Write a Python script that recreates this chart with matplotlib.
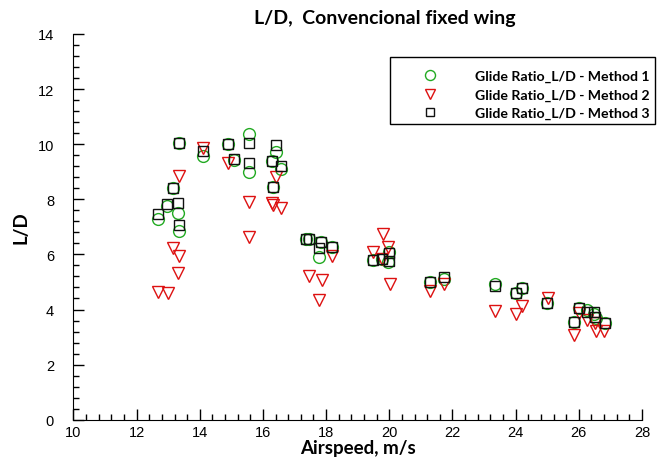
import matplotlib.pyplot as plt
from matplotlib.patches import Rectangle
from matplotlib.ticker import MultipleLocator

# Method 1 - circles
m1_speed = [12.69, 12.97, 13.14, 13.32, 13.35, 13.35, 14.11, 14.88, 15.09, 15.55,
            15.55, 16.30, 16.40, 16.33, 16.56, 17.36, 17.47, 17.78, 17.84, 18.18,
            19.47, 19.76, 20.00, 19.97, 21.29, 21.73, 23.35, 24.01, 24.19, 24.98,
            25.86, 26.01, 26.25, 26.49, 26.55, 26.83]
m1_ld = [7.29, 7.75, 8.41, 7.50, 6.86, 10.03, 9.56, 10.00, 9.44, 10.38,
         8.99, 9.39, 9.71, 8.44, 9.10, 6.56, 6.56, 5.92, 6.44, 6.26,
         5.80, 5.85, 6.10, 5.71, 4.99, 5.11, 4.93, 4.59, 4.77, 4.24,
         3.56, 4.05, 3.99, 3.85, 3.70, 3.50]

# Method 2 - triangles
m2_speed = [12.69, 12.98, 13.14, 13.35, 13.32, 13.35, 14.11, 14.88, 15.55, 15.55,
            16.40, 16.30, 16.33, 16.57, 17.47, 17.86, 17.78, 18.18, 19.47, 19.79,
            19.76, 19.97, 20.02, 21.29, 21.73, 23.35, 24.01, 24.19, 25.03, 25.86,
            26.01, 26.25, 26.51, 26.55, 26.81]
m2_ld = [4.62, 4.59, 6.23, 5.93, 5.32, 8.86, 9.85, 9.32, 7.91, 6.62,
         8.80, 7.85, 7.79, 7.67, 5.23, 5.07, 4.34, 5.93, 6.08, 6.74,
         5.83, 6.26, 4.93, 4.68, 4.93, 3.96, 3.84, 4.12, 4.41, 3.07,
         3.87, 3.63, 3.51, 3.23, 3.23]

# Method 3 - squares
m3_speed = [12.69, 12.97, 13.14, 13.32, 13.35, 13.35, 14.11, 14.88, 15.09, 15.55,
            15.55, 16.30, 16.40, 16.33, 16.56, 17.36, 17.47, 17.78, 17.84, 18.18,
            19.47, 19.76, 20.00, 20.00, 21.29, 21.73, 23.35, 24.01, 24.19, 24.98,
            25.86, 26.01, 26.25, 26.49, 26.51, 26.83]
m3_ld = [7.48, 7.83, 8.41, 7.86, 7.07, 10.03, 9.74, 10.00, 9.47, 10.04,
         9.32, 9.39, 9.97, 8.44, 9.21, 6.56, 6.56, 6.22, 6.44, 6.26,
         5.80, 5.83, 6.04, 5.75, 4.99, 5.19, 4.86, 4.59, 4.77, 4.24,
         3.56, 4.05, 3.92, 3.90, 3.72, 3.50]

fig = plt.figure(figsize=(6.68, 4.6), dpi=100)
ax = fig.add_axes([0.110, 0.0854, 0.851, 0.8386])

ax.plot(m1_speed, m1_ld, 'o', ls='none', ms=8.5, mfc='none', mec='#22aa22', mew=1.0,
        label='Glide Ratio_L/D - Method 1')
ax.plot(m2_speed, m2_ld, 'v', ls='none', ms=8, mfc='none', mec='#dd1111', mew=1.0,
        label='Glide Ratio_L/D - Method 2')
ax.plot(m3_speed, m3_ld, 's', ls='none', ms=7, mfc='none', mec='#111111', mew=1.0,
        label='Glide Ratio_L/D - Method 3')

ax.set_xlim(10, 28)
ax.set_ylim(0, 14)
ax.xaxis.set_major_locator(MultipleLocator(2))
ax.xaxis.set_minor_locator(MultipleLocator(0.4))
ax.yaxis.set_major_locator(MultipleLocator(2))
ax.yaxis.set_minor_locator(MultipleLocator(0.4))
ax.tick_params(which='both', direction='in', width=1, labelsize=10.5)
ax.tick_params(which='major', length=8)
ax.tick_params(which='minor', length=4)
ax.tick_params(axis='y', pad=14)
ax.tick_params(axis='x', pad=4)
for lab in ax.get_xticklabels() + ax.get_yticklabels():
    lab.set_family('Liberation Sans')

ax.spines['top'].set_visible(False)
ax.spines['right'].set_visible(False)

bold = {'family': 'Lato', 'weight': 'bold'}
ax.set_xlabel('Airspeed, m/s', fontdict=bold, fontsize=13.5, labelpad=0)
ax.set_ylabel('L/D', fontdict=bold, fontsize=13.5, labelpad=6)
fig.suptitle('L/D,  Convencional fixed wing', x=0.576, y=0.978, fontsize=14,
             **bold)

# legend entries without frame, frame drawn as a separate box
leg = ax.legend(loc='upper left', bbox_to_anchor=(0.5954, 0.8457),
                bbox_transform=fig.transFigure, frameon=False,
                prop={'family': 'Lato', 'weight': 'bold', 'size': 10.2},
                handletextpad=0.89, borderpad=0, borderaxespad=0,
                labelspacing=0.45, handlelength=4.56, markerscale=0.85)
fig.add_artist(Rectangle((0.5838, 0.7283), 0.3967, 0.1457, transform=fig.transFigure,
                         fill=False, edgecolor='black', lw=1, zorder=2.5))

plt.savefig('out.png')
